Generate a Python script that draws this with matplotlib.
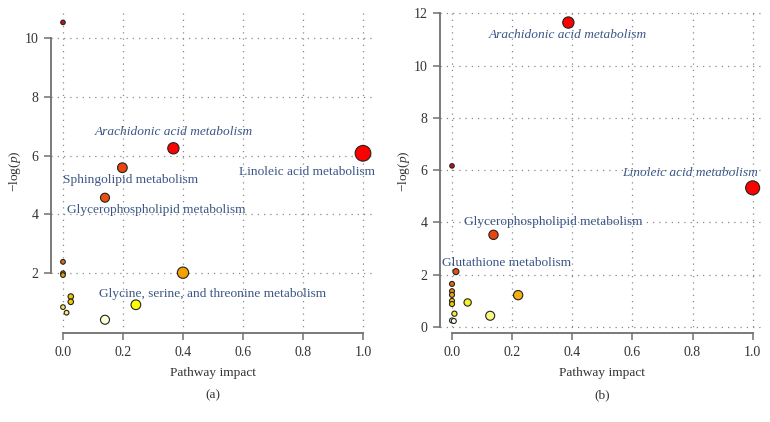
import matplotlib
matplotlib.use("Agg")
import matplotlib.pyplot as plt

plt.rcParams['font.family'] = ['Liberation Serif', 'DejaVu Serif']
plt.rcParams['mathtext.fontset'] = 'custom'
plt.rcParams['mathtext.it'] = 'Liberation Serif:italic'
plt.rcParams['mathtext.rm'] = 'Liberation Serif'

# panel (a)
a_x = [0.0, 0.368, 1.0, 0.198, 0.14, 0.0, 0.0, 0.0, 0.40, 0.026, 0.026, 0.0, 0.012, 0.243, 0.14]
a_y = [10.53, 6.25, 6.08, 5.59, 4.57, 2.39, 2.00, 1.94, 2.02, 1.21, 1.03, 0.85, 0.66, 0.93, 0.42]
a_d = [4.5, 11.3, 15.7, 9.7, 9.0, 4.7, 4.7, 4.7, 11.3, 5.5, 5.5, 4.7, 4.7, 9.7, 9.0]
a_c = ['#c4101c', '#ff0000', '#ff0000', '#e8460c', '#e8500c', '#e06a12', '#e07a12', '#e8a010',
       '#f5a000', '#f2c200', '#f2c800', '#f8e850', '#faec70', '#ffff00', '#ffffd8']
a_labels = ['Arachidonic acid metabolism', 'Linoleic acid metabolism', 'Sphingolipid metabolism',
            'Glycerophospholipid metabolism', 'Glycine, serine, and threonine metabolism']
a_lab_x = [0.368, 1.04, 0.224, 0.312, 0.498]
a_lab_y = [6.8, 5.46, 5.18, 4.14, 1.29]
a_lab_ha = ['center', 'right', 'center', 'center', 'center']
a_lab_it = [True, False, False, False, False]

# panel (b)
b_x = [0.387, 1.0, 0.0, 0.138, 0.013, 0.0, 0.0, 0.0, 0.0, 0.0, 0.052, 0.22, 0.008, 0.0, 0.006, 0.127]
b_y = [11.65, 5.32, 6.16, 3.52, 2.11, 1.64, 1.36, 1.22, 0.99, 0.87, 0.93, 1.21, 0.50, 0.24, 0.22, 0.42]
b_d = [11.3, 14.0, 4.5, 9.3, 6.0, 5.0, 5.0, 5.0, 5.0, 5.0, 7.3, 9.3, 5.2, 5.0, 5.0, 9.0]
b_c = ['#ff0000', '#ff0000', '#c4101c', '#e8460c', '#e0520e', '#e06a12', '#e48a14', '#eaa814',
       '#f2c800', '#f2d000', '#f8f020', '#f5b010', '#f8ee40', '#ffffff', '#ffffe8', '#fafa80']
b_labels = ['Arachidonic acid metabolism', 'Linoleic acid metabolism',
            'Glycerophospholipid metabolism', 'Glutathione metabolism']
b_lab_x = [0.384, 1.019, 0.338, 0.181]
b_lab_y = [11.16, 5.87, 4.0, 2.43]
b_lab_ha = ['center', 'right', 'center', 'center']
b_lab_it = [True, True, False, False]

lab_color = '#3a5686'
axis_color = '#707070'

fig = plt.figure(figsize=(7.7, 4.22), dpi=100)
ax1 = fig.add_axes([0.0662, 0.2109, 0.4208, 0.766])
ax2 = fig.add_axes([0.5714, 0.2109, 0.4217, 0.766])


def draw_panel(ax, xs, ys, ds, cs, labels, lx, ly, lha, lit, yticks, ylim, tag):
    ax.set_xlim(-0.04, 1.04)
    ax.set_ylim(*ylim)
    xticks = [0.0, 0.2, 0.4, 0.6, 0.8, 1.0]
    ax.set_xticks(xticks)
    ax.set_xticklabels(['%.1f' % t for t in xticks])
    ax.set_yticks(yticks)
    ax.grid(True, linestyle=(0, (1, 4)), color='#8a8a8a', linewidth=0.9)
    ax.set_axisbelow(True)
    sizes = [(d * 0.72) ** 2 for d in ds]
    ax.scatter(xs, ys, s=sizes, c=cs, edgecolors='#222222', linewidths=0.8, zorder=3)
    for t, x, y, ha, it in zip(labels, lx, ly, lha, lit):
        ax.text(x, y, t, ha=ha, va='center', color=lab_color, fontsize=9.6,
                style='italic' if it else 'normal', zorder=4)
    for s in ['top', 'right']:
        ax.spines[s].set_visible(False)
    for s in ['left', 'bottom']:
        ax.spines[s].set_color(axis_color)
        ax.spines[s].set_linewidth(1.3)
    ax.spines['left'].set_bounds(yticks[0], yticks[-1])
    ax.spines['bottom'].set_bounds(0.0, 1.0)
    ax.tick_params(direction='out', length=5, width=1.1, color=axis_color,
                   labelsize=10, labelcolor='#333333', pad=4)
    ax.set_xlabel('Pathway impact', fontsize=9.6, color='#333333', labelpad=6)
    ax.set_ylabel(r'$-$log($p$)', fontsize=9.6, color='#333333', labelpad=1)
    ax.text(0.5, -0.192, tag, transform=ax.transAxes, ha='center', va='center',
            fontsize=9.6, color='#333333')


draw_panel(ax1, a_x, a_y, a_d, a_c, a_labels, a_lab_x, a_lab_y, a_lab_ha, a_lab_it,
           [2, 4, 6, 8, 10], (-0.03, 10.96), '(a)')
draw_panel(ax2, b_x, b_y, b_d, b_c, b_labels, b_lab_x, b_lab_y, b_lab_ha, b_lab_it,
           [0, 2, 4, 6, 8, 10, 12], (-0.24, 12.14), '(b)')

fig.savefig('out.png', dpi=100)
